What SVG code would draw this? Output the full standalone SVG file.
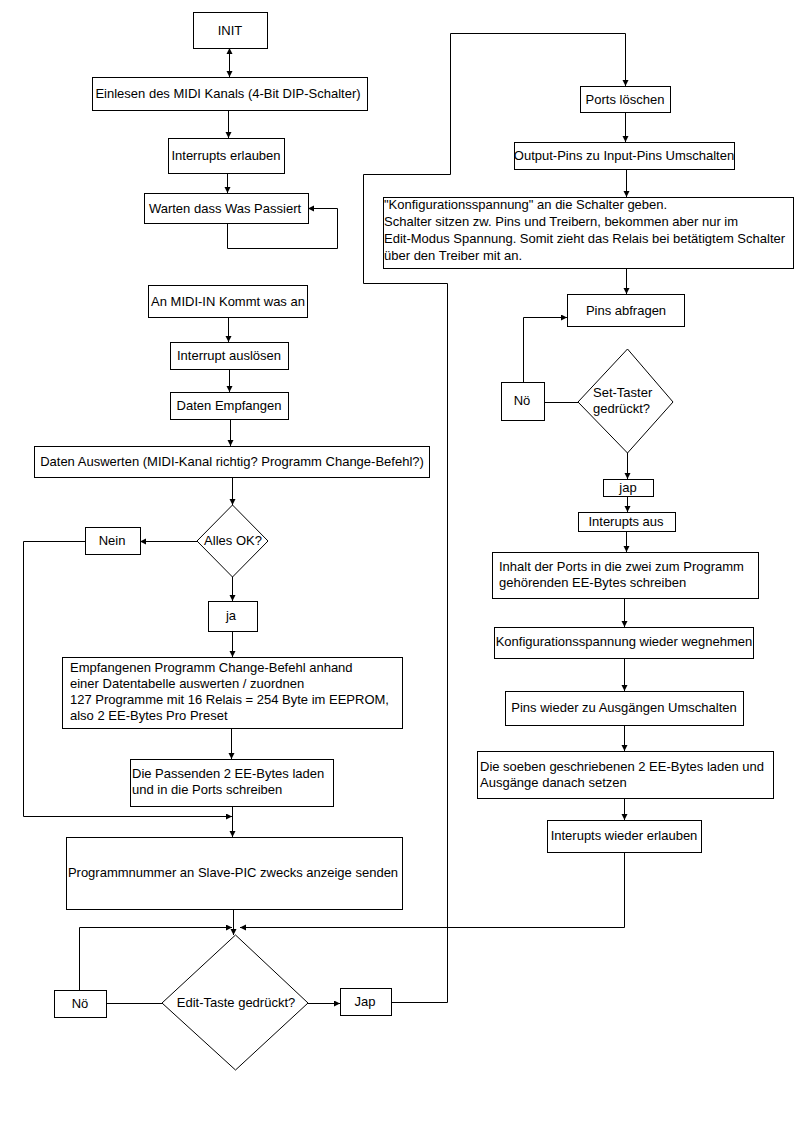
<svg xmlns="http://www.w3.org/2000/svg" width="794" height="1123" viewBox="0 0 794 1123">
<style>
.b{fill:#fff;stroke:#000;stroke-width:1}
.t{font-family:"Liberation Sans",Arial,sans-serif;font-size:13px;fill:#000}
.c{text-anchor:middle}
.ln{fill:none;stroke:#000;stroke-width:1}
.a{marker-end:url(#ah)}
</style>
<defs>
<marker id="ah" markerUnits="userSpaceOnUse" markerWidth="7" markerHeight="7" refX="6" refY="3" orient="auto">
<path d="M0,0 L6,3 L0,6 z" fill="#000"/>
</marker>
<marker id="as" markerUnits="userSpaceOnUse" markerWidth="7" markerHeight="7" refX="0" refY="3" orient="auto">
<path d="M6,0 L0,3 L6,6 z" fill="#000"/>
</marker>
</defs>
<rect width="794" height="1123" fill="#fff"/>
<g id="connectors">
<path class="ln a" d="M229.5,48 V77" marker-start="url(#as)"/>
<path class="ln a" d="M228.5,110 V138"/>
<path class="ln a" d="M227.5,173 V193"/>
<path class="ln a" d="M227.5,223 V248.5 H337.5 V208.5 H308"/>
<path class="ln a" d="M228.5,317 V342"/>
<path class="ln a" d="M229.5,369 V392"/>
<path class="ln a" d="M230.5,419 V446"/>
<path class="ln a" d="M232.5,477 V505"/>
<path class="ln a" d="M197,541.5 H140"/>
<path class="ln a" d="M85,541.5 H23.5 V816.5 H232"/>
<path class="ln a" d="M232.5,577 V601"/>
<path class="ln a" d="M232.5,631 V657"/>
<path class="ln a" d="M231.5,728 V759"/>
<path class="ln a" d="M232.5,806 V837"/>
<path class="ln a" d="M233.5,909 V935"/>
<path class="ln a" d="M79.5,990 V927.5 H232"/>
<path class="ln" d="M106,1003.5 H162"/>
<path class="ln a" d="M308,1003.5 H340"/>
<path class="ln a" d="M391,1002.5 H447.5 V283.5 H363.5 V174.5 H450.5 V33.5 H625.5 V86"/>
<path class="ln a" d="M625.5,112 V142"/>
<path class="ln a" d="M626.5,169 V197"/>
<path class="ln a" d="M626.5,268 V294"/>
<path class="ln" d="M578,402.5 H544"/>
<path class="ln a" d="M523.5,382 V317.5 H567"/>
<path class="ln a" d="M627.5,453 V479"/>
<path class="ln a" d="M627.5,496 V512"/>
<path class="ln a" d="M626.5,531 V552"/>
<path class="ln a" d="M624.5,598 V627"/>
<path class="ln a" d="M624.5,658 V691"/>
<path class="ln a" d="M624.5,725 V751"/>
<path class="ln a" d="M624.5,798 V820"/>
<path class="ln a" d="M624.5,852 V927.5 H240"/>
</g>
<g id="init"><rect class="b" x="193.5" y="12.5" width="74" height="36"/><text class="t c" x="230" y="35">INIT</text></g>
<g id="einlesen"><rect class="b" x="92.5" y="77.5" width="275" height="33"/><text class="t c" x="228" y="98">Einlesen des MIDI Kanals (4-Bit DIP-Schalter)</text></g>
<g id="interrupts-erlauben"><rect class="b" x="168.5" y="138.5" width="116" height="35"/><text class="t c" x="226" y="160">Interrupts erlauben</text></g>
<g id="warten"><rect class="b" x="144.5" y="193.5" width="164" height="30"/><text class="t c" x="225" y="213">Warten dass Was Passiert</text></g>
<g id="midi-in"><rect class="b" x="148.5" y="285.5" width="159" height="32"/><text class="t c" x="228" y="306">An MIDI-IN Kommt was an</text></g>
<g id="interrupt-ausloesen"><rect class="b" x="170.5" y="342.5" width="118" height="27"/><text class="t c" x="229" y="360">Interrupt auslösen</text></g>
<g id="daten-empfangen"><rect class="b" x="170.5" y="392.5" width="118" height="27"/><text class="t c" x="229" y="410">Daten Empfangen</text></g>
<g id="daten-auswerten"><rect class="b" x="34.5" y="446.5" width="395" height="31"/><text class="t c" x="232" y="466">Daten Auswerten (MIDI-Kanal richtig? Programm Change-Befehl?)</text></g>
<g id="alles-ok"><polygon class="b" points="232.5,505 268,541 232.5,577 197,541"/><text class="t c" x="233" y="545">Alles OK?</text></g>
<g id="nein"><rect class="b" x="85.5" y="527.5" width="55" height="27"/><text class="t c" x="112" y="545">Nein</text></g>
<g id="ja"><rect class="b" x="208.5" y="601.5" width="49" height="30"/><text class="t c" x="231" y="620">ja</text></g>
<g id="empfangenen"><rect class="b" x="62.5" y="657.5" width="340" height="71"/>
<text class="t" x="70" y="672">Empfangenen Programm Change-Befehl anhand</text>
<text class="t" x="70" y="688">einer Datentabelle auswerten / zuordnen</text>
<text class="t" x="70" y="704">127 Programme mit 16 Relais = 254 Byte im EEPROM,</text>
<text class="t" x="70" y="720">also 2 EE-Bytes Pro Preset</text></g>
<g id="passenden"><rect class="b" x="130.5" y="759.5" width="203" height="47"/>
<text class="t" x="132" y="778">Die Passenden 2 EE-Bytes laden</text>
<text class="t" x="132" y="794">und in die Ports schreiben</text></g>
<g id="programmnummer"><rect class="b" x="66.5" y="837.5" width="336" height="72"/><text class="t c" x="233" y="877">Programmnummer an Slave-PIC zwecks anzeige senden</text></g>
<g id="edit-taste"><polygon class="b" points="235.5,935 308,1003 235.5,1070 162,1003"/><text class="t c" x="236" y="1007">Edit-Taste gedrückt?</text></g>
<g id="noe-left"><rect class="b" x="54.5" y="990.5" width="52" height="27"/><text class="t c" x="80" y="1008">Nö</text></g>
<g id="jap-left"><rect class="b" x="340.5" y="988.5" width="51" height="27"/><text class="t c" x="365" y="1006">Jap</text></g>
<g id="ports-loeschen"><rect class="b" x="580.5" y="86.5" width="90" height="26"/><text class="t c" x="625" y="104">Ports löschen</text></g>
<g id="output-pins"><rect class="b" x="514.5" y="142.5" width="220" height="27"/><text class="t c" x="624" y="160">Output-Pins zu Input-Pins Umschalten</text></g>
<g id="konfig"><rect class="b" x="383.5" y="197.5" width="410" height="71"/>
<text class="t" x="384" y="209">"Konfigurationsspannung" an die Schalter geben.</text>
<text class="t" x="384" y="226">Schalter sitzen zw. Pins und Treibern, bekommen aber nur im</text>
<text class="t" x="384" y="243">Edit-Modus Spannung. Somit zieht das Relais bei betätigtem Schalter</text>
<text class="t" x="384" y="260">über den Treiber mit an.</text></g>
<g id="pins-abfragen"><rect class="b" x="567.5" y="294.5" width="117" height="32"/><text class="t c" x="626" y="315">Pins abfragen</text></g>
<g id="set-taster"><polygon class="b" points="627.5,349 673,402 627.5,453 578,402"/>
<text class="t" x="593" y="397">Set-Taster</text>
<text class="t" x="593" y="413">gedrückt?</text></g>
<g id="noe-right"><rect class="b" x="501.5" y="382.5" width="43" height="38"/><text class="t c" x="522" y="405">Nö</text></g>
<g id="jap-right"><rect class="b" x="603.5" y="479.5" width="50" height="17"/><text class="t c" x="628" y="492">jap</text></g>
<g id="interupts-aus"><rect class="b" x="578.5" y="512.5" width="97" height="19"/><text class="t c" x="626" y="526">Interupts aus</text></g>
<g id="inhalt"><rect class="b" x="492.5" y="552.5" width="266" height="46"/>
<text class="t" x="499" y="571">Inhalt der Ports in die zwei zum Programm</text>
<text class="t" x="499" y="587">gehörenden EE-Bytes schreiben</text></g>
<g id="konfig-weg"><rect class="b" x="494.5" y="627.5" width="259" height="31"/><text class="t c" x="624" y="646">Konfigurationsspannung wieder wegnehmen</text></g>
<g id="pins-wieder"><rect class="b" x="505.5" y="691.5" width="238" height="34"/><text class="t c" x="624" y="712">Pins wieder zu Ausgängen Umschalten</text></g>
<g id="soeben"><rect class="b" x="477.5" y="751.5" width="296" height="47"/>
<text class="t" x="480" y="771">Die soeben geschriebenen 2 EE-Bytes laden und</text>
<text class="t" x="480" y="787">Ausgänge danach setzen</text></g>
<g id="interupts-wieder"><rect class="b" x="547.5" y="820.5" width="154" height="32"/><text class="t c" x="624" y="840">Interupts wieder erlauben</text></g>
</svg>
